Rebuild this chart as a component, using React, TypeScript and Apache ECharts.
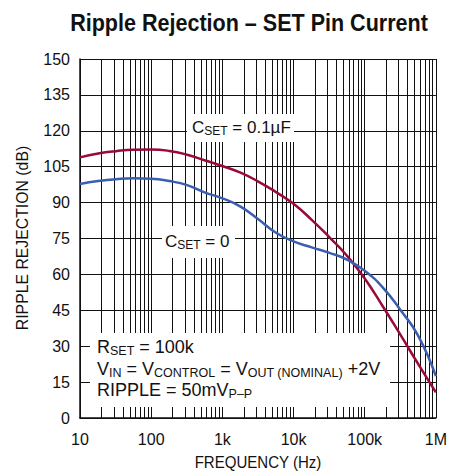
import React, { useEffect, useRef } from "react";
import * as echarts from "echarts";

const freqHz = [10, 18, 32, 56, 100, 180, 320, 560, 1000, 1800, 3200, 5600, 10000, 18000, 32000, 56000, 100000, 180000, 320000, 560000, 1000000];
const redDb = [108.9, 110.5, 111.5, 112.1, 112.2, 111.6, 110.0, 107.7, 105.3, 102.5, 98.8, 94.5, 89.5, 82.8, 75.5, 67.9, 58.3, 46.6, 34.6, 22.7, 10.7];
const blueDb = [97.8, 99.0, 99.8, 100.2, 100.0, 99.0, 97.3, 94.3, 91.8, 88.3, 83.0, 77.5, 73.8, 71.3, 69.0, 66.2, 61.5, 54.5, 45.0, 34.5, 17.5];

const xTickLabels = ["10", "100", "1k", "10k", "100k", "1M"];
const minorGrid = [
  20, 30, 40, 50, 60, 70, 80, 90,
  200, 300, 400, 500, 600, 700, 800, 900,
  2000, 3000, 4000, 5000, 6000, 7000, 8000, 9000,
  20000, 30000, 40000, 50000, 60000, 70000, 80000, 90000,
  200000, 300000, 400000, 500000, 600000, 700000, 800000, 900000,
];

const FONT = "'Liberation Sans', Arial, sans-serif";
const INK = "#111";

function makeRich(main: number, sub: number) {
  return {
    n: { fontSize: main, fontFamily: FONT, color: INK, lineHeight: 18 },
    s: { fontSize: sub, fontFamily: FONT, color: INK, lineHeight: 18, padding: [8, 0, 0, 0] },
  };
}

function richText(x: number, y: number, text: string, main: number, sub: number) {
  return {
    type: "text",
    x,
    y,
    z: 110,
    style: {
      text,
      rich: makeRich(main, sub),
      fontFamily: FONT,
      fontSize: main,
      fill: INK,
      textAlign: "left",
      textVerticalAlign: "middle",
    },
  };
}

function whiteRect(x: number, y: number, w: number, h: number) {
  return {
    type: "rect",
    z: 100,
    shape: { x, y, width: w, height: h },
    style: { fill: "#fff" },
  };
}

export default function App() {
  const ref = useRef<HTMLDivElement>(null);
  useEffect(() => {
    document.body.style.margin = "0";
    const chart = echarts.init(ref.current!, null, { renderer: "svg" });
    const option = {
      animation: false,
      backgroundColor: "#fff",
      grid: { left: 80, top: 59, width: 359, height: 359, containLabel: false },
      xAxis: {
        type: "log",
        logBase: 10,
        min: 10,
        max: 1000000,
        axisLine: { show: true, lineStyle: { color: INK, width: 1.5 } },
        axisTick: { show: false },
        splitLine: { show: true, lineStyle: { color: INK, width: 1 } },
        axisLabel: {
          color: INK,
          fontSize: 16,
          fontFamily: FONT,
          margin: 13,
          formatter: (v: number) => xTickLabels[Math.round(Math.log10(v)) - 1] ?? "",
        },
      },
      yAxis: {
        type: "value",
        min: 0,
        max: 150,
        interval: 15,
        axisLine: { show: true, lineStyle: { color: INK, width: 1.5 } },
        axisTick: { show: false },
        splitLine: { show: true, lineStyle: { color: INK, width: 1 } },
        axisLabel: { color: INK, fontSize: 16, fontFamily: FONT, margin: 10 },
      },
      series: [
        {
          type: "line",
          z: 1,
          data: [],
          silent: true,
          markLine: {
            silent: true,
            symbol: "none",
            label: { show: false },
            lineStyle: { color: INK, width: 1, type: "solid" },
            data: minorGrid.map((f) => ({ xAxis: f })),
          },
        },
        {
          type: "line",
          z: 5,
          smooth: 0.5,
          showSymbol: false,
          data: freqHz.map((f, i) => [f, redDb[i]]),
          lineStyle: { color: "#990a3a", width: 2.5 },
        },
        {
          type: "line",
          z: 5,
          smooth: 0.5,
          showSymbol: false,
          data: freqHz.map((f, i) => [f, blueDb[i]]),
          lineStyle: { color: "#3a5fb0", width: 2.5 },
        },
      ],
      graphic: [
        {
          type: "text",
          x: 249,
          y: 23,
          scaleX: 0.937,
          style: {
            text: "Ripple Rejection – SET Pin Current",
            fontFamily: FONT,
            fontWeight: "bold",
            fontSize: 23,
            fill: INK,
            textAlign: "center",
            textVerticalAlign: "middle",
          },
        },
        {
          type: "text",
          x: 258,
          y: 462,
          scaleX: 0.885,
          style: {
            text: "FREQUENCY (Hz)",
            fontFamily: FONT,
            fontSize: 17,
            fill: INK,
            textAlign: "center",
            textVerticalAlign: "middle",
          },
        },
        {
          type: "text",
          x: 22,
          y: 238,
          rotation: Math.PI / 2,
          scaleX: 0.93,
          style: {
            text: "RIPPLE REJECTION (dB)",
            fontFamily: FONT,
            fontSize: 17,
            fill: INK,
            textAlign: "center",
            textVerticalAlign: "middle",
          },
        },
        whiteRect(187, 114, 107, 28),
        whiteRect(162, 226, 73, 32),
        whiteRect(90, 333, 300, 74),
        richText(192, 127, "{n|C}{s|SET}{n| = 0.1µF}", 17, 12),
        richText(165, 241, "{n|C}{s|SET}{n| = 0}", 17, 12),
        richText(97, 347, "{n|R}{s|SET}{n| = 100k}", 18, 12.5),
        richText(97, 369, "{n|V}{s|IN}{n| = V}{s|CONTROL}{n| = V}{s|OUT (NOMINAL)}{n| +2V}", 18, 12.5),
        richText(97, 390, "{n|RIPPLE = 50mV}{s|P–P}", 18, 12.5),
      ],
    };
    chart.setOption(option as any);
    return () => chart.dispose();
  }, []);
  return <div ref={ref} style={{ width: 450, height: 472 }} />;
}
